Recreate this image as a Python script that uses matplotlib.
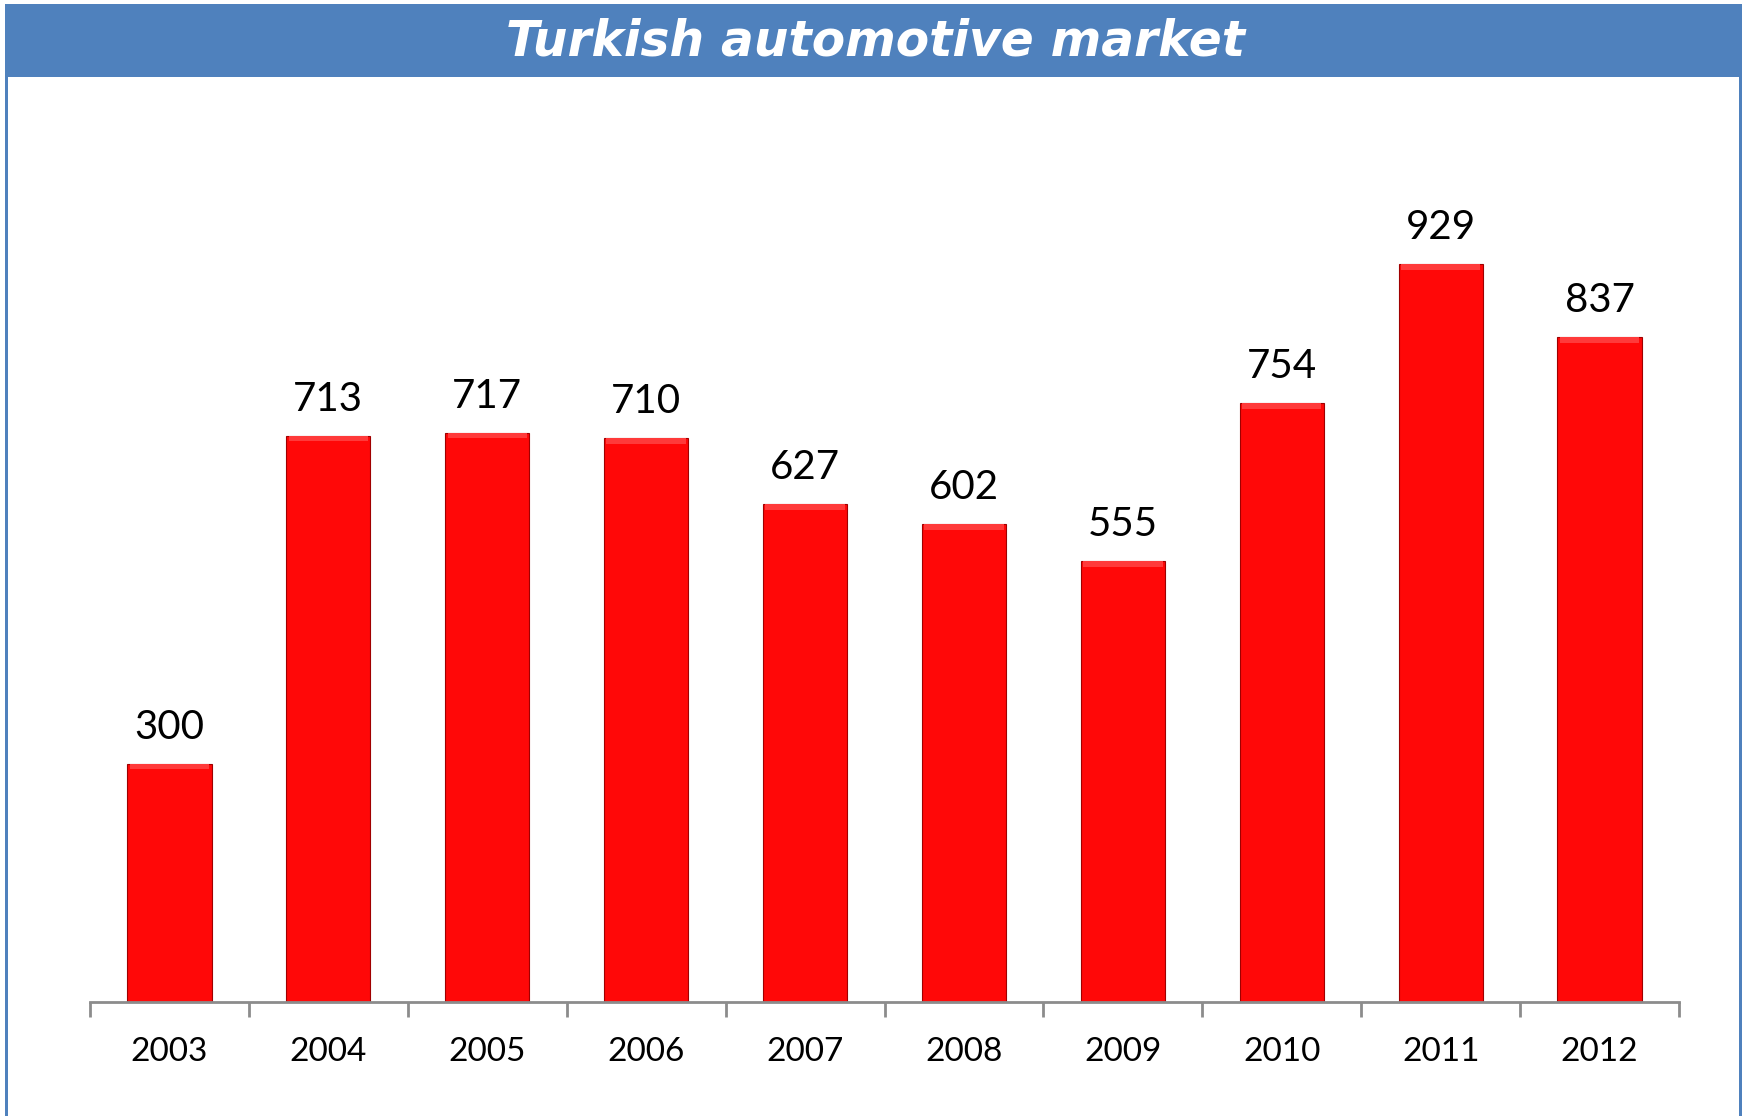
import numpy as np
import matplotlib
matplotlib.use("Agg")
import matplotlib.pyplot as plt
from matplotlib.patches import Rectangle

# Chart data
years = ["2003", "2004", "2005", "2006", "2007", "2008", "2009", "2010", "2011", "2012"]
sales = [300, 713, 717, 710, 627, 602, 555, 754, 929, 837]

title = "Turkish automotive market"
blue = "#4F81BD"
red = "#FF0808"

W, H = 1744, 1116
fig = plt.figure(figsize=(W / 100, H / 100), dpi=100)
fig.patch.set_facecolor("white")


def px(x0, y0, w, h):
    # pixel box (from top-left) -> figure fraction rectangle
    return (x0 / W, 1 - (y0 + h) / H), w / W, h / H


# Frame: blue header band and side borders
for box in [px(5, 4, 1737, 73), px(5, 4, 3, 1112), px(1739, 4, 3, 1112)]:
    xy, w, h = box
    fig.add_artist(Rectangle(xy, w, h, transform=fig.transFigure,
                             facecolor=blue, edgecolor="none"))

fig.text(875 / W, 1 - 41 / H, title, color="white", fontsize=35,
         fontweight="bold", fontstyle="italic", family="DejaVu Sans",
         ha="center", va="center")

# Axes
ax = fig.add_axes([90 / W, (H - 1002) / H, 1589 / W, 902 / H])
x = np.arange(len(years))
ax.bar(x, sales, width=0.53, color=red, edgecolor="#a00000", linewidth=0.8, zorder=2)
# soft bevel strip along the top of each bar
ax.bar(x, [7] * len(sales), bottom=np.array(sales) - 7, width=0.50,
       color="#ff3a3a", edgecolor="none", zorder=3)

for xi, v in zip(x, sales):
    ax.annotate(str(v), (xi, v), xytext=(0, 13), textcoords="offset points",
                ha="center", va="bottom", fontsize=29, family="Lato", color="black")

ax.set_xlim(-0.5, len(years) - 0.5)
ax.set_ylim(0, 1136)
ax.set_yticks([])
ax.set_xticks(x)
ax.set_xticklabels(years, fontsize=24, family="Lato")
ax.tick_params(axis="x", which="major", length=0, pad=25)
ax.set_xticks(np.arange(-0.5, len(years)), minor=True)
ax.tick_params(axis="x", which="minor", length=11, width=2, color="#8c8c8c", direction="out")

for s in ["top", "right", "left"]:
    ax.spines[s].set_visible(False)
ax.spines["bottom"].set_color("#8c8c8c")
ax.spines["bottom"].set_linewidth(2)
ax.patch.set_alpha(0)

fig.savefig("out.png", dpi=100)
